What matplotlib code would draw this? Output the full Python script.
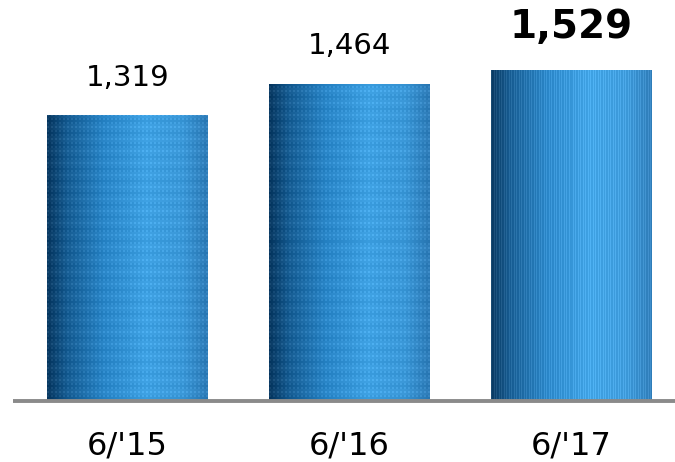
import numpy as np
import matplotlib
matplotlib.use("Agg")
import matplotlib.pyplot as plt
from matplotlib.colors import LinearSegmentedColormap

categories = ["6/'15", "6/'16", "6/'17"]
values = [1319, 1464, 1529]
labels = ["1,319", "1,464", "1,529"]
bold_flags = [False, False, True]
textures = ["dots", "dots", "stripes"]

W, H = 675, 462
fig = plt.figure(figsize=(W / 100, H / 100), dpi=100)
ax = fig.add_axes([13 / W, (H - 401) / H, (675 - 13) / W, 401 / H])
ax.set_xlim(-0.516, 2.466)
ax.set_ylim(0, 1852)
ax.axis("off")

cmap = LinearSegmentedColormap.from_list(
    "cyl",
    [(0.0, "#0a3a63"), (0.12, "#175d93"), (0.35, "#2a86c8"),
     (0.62, "#3fa2e4"), (0.85, "#3b98d8"), (1.0, "#2e7cb8")])

width = 0.725
bars = ax.bar(range(len(values)), values, width=width, color="none", edgecolor="none")

for i, (b, v, tex) in enumerate(zip(bars, values, textures)):
    ncols = 162
    nrows = int(v * 0.2165)
    x = np.linspace(0, 1, ncols)
    base = np.tile(x, (nrows, 1))
    rgba = cmap(base)
    cc, rr = np.meshgrid(np.arange(ncols), np.arange(nrows))
    if tex == "dots":
        pat = (((cc // 2) % 2) == 0) & (((rr // 2) % 2) == 0)
        rgba[..., :3] = np.clip(rgba[..., :3] + 0.06 * pat[..., None], 0, 1)
        band = ((rr // 6) % 2 == 0)
        rgba[..., :3] = np.clip(rgba[..., :3] - 0.025 * band[..., None], 0, 1)
    else:
        pat = ((cc * 7) % 5) < 2
        rgba[..., :3] = np.clip(rgba[..., :3] + 0.07 * pat[..., None], 0, 1)
    im = ax.imshow(rgba, extent=[b.get_x(), b.get_x() + width, 0, v],
                   aspect="auto", origin="lower", interpolation="nearest", zorder=2)
    im.set_clip_path(b)

    if bold_flags[i]:
        ax.annotate(labels[i], (i, v), xytext=(0, 17), textcoords="offset points",
                    ha="center", va="bottom", fontsize=28, fontweight="bold",
                    family="DejaVu Sans", color="#000000")
    else:
        ax.annotate(labels[i], (i, v), xytext=(0, 17), textcoords="offset points",
                    ha="center", va="bottom", fontsize=21, family="DejaVu Sans",
                    color="#000000")
    ax.annotate(categories[i], (i, 0), xytext=(0, -21), textcoords="offset points",
                ha="center", va="top", fontsize=23, family="DejaVu Sans",
                color="#000000", annotation_clip=False)

ax.plot([-0.516, 2.466], [0, 0], color="#8a8a8a", lw=2.8, solid_capstyle="butt",
        zorder=3, clip_on=False)

fig.savefig("out.png", dpi=100)
